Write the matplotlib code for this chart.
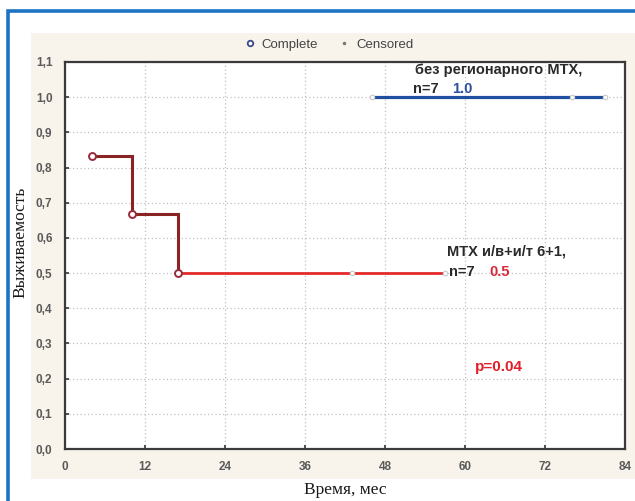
import matplotlib
matplotlib.use("Agg")
import matplotlib.pyplot as plt
from matplotlib.patches import Rectangle
from matplotlib.lines import Line2D
from matplotlib.font_manager import FontProperties

# Kaplan-Meier curves (months, cumulative survival)
red_time = [4, 10, 10, 17, 17, 57]
red_surv = [0.833, 0.833, 0.667, 0.667, 0.5, 0.5]
red_event_t = [4, 10, 17]
red_event_s = [0.833, 0.667, 0.5]
red_cens_t = [43, 57]
red_cens_s = [0.5, 0.5]

blue_time = [46, 81]
blue_surv = [1.0, 1.0]
blue_cens_t = [46, 76, 81]
blue_cens_s = [1.0, 1.0, 1.0]

x_ticks = [0, 12, 24, 36, 48, 60, 72, 84]
y_ticks = [0.0, 0.1, 0.2, 0.3, 0.4, 0.5, 0.6, 0.7, 0.8, 0.9, 1.0, 1.1]
y_tick_labels = ["0,0", "0,1", "0,2", "0,3", "0,4", "0,5", "0,6", "0,7", "0,8", "0,9", "1,0", "1,1"]

label_blue_1 = "без регионарного МТХ,"
label_blue_2 = "n=7"
value_blue = "1.0"
label_red_1 = "МТХ и/в+и/т 6+1,"
label_red_2 = "n=7"
value_red = "0.5"
p_text = "p=0.04"

W, H = 635, 501
fig = plt.figure(figsize=(W / 100, H / 100), dpi=100)
fig.patch.set_facecolor("white")

# beige panel and blue frame
fig.patches.append(Rectangle((31 / W, 1 - 479 / H), (W - 31) / W, (479 - 33) / H,
                             transform=fig.transFigure, facecolor="#f8f4ec",
                             edgecolor="none", zorder=-2))
fig.patches.append(Rectangle((8 / W, -0.05), 1.2, 1 - 11 / H + 0.05,
                             transform=fig.transFigure, facecolor="none",
                             edgecolor="#1e74c4", linewidth=2.6, zorder=-1))

ax = fig.add_axes([65 / W, 1 - 449 / H, 560 / W, 387 / H])
ax.set_facecolor("white")
ax.set_xlim(0, 84)
ax.set_ylim(0, 1.1)

ax.set_xticks(x_ticks)
ax.set_yticks(y_ticks)
ax.set_yticklabels(y_tick_labels)
tick_fp = FontProperties(family=["Liberation Sans", "DejaVu Sans"], weight="bold", size=8.5)
for lab in ax.get_xticklabels() + ax.get_yticklabels():
    lab.set_fontproperties(tick_fp)
    lab.set_color("#5a5a5a")
ax.tick_params(axis="both", direction="in", length=3, width=1.2, color="#333333", pad=9)
ax.grid(True, linestyle=(0, (1, 2)), color="#c0c0c0", linewidth=0.9)
ax.set_axisbelow(True)
for s in ax.spines.values():
    s.set_color("#3a3a3a")
    s.set_linewidth(1.6)

# red curve: early steps darker, final plateau bright red
ax.plot(red_time[:5], red_surv[:5], color="#8a2424", linewidth=2.2,
        solid_joinstyle="miter", zorder=3)
ax.plot(red_time[4:], red_surv[4:], color="#e42a2a", linewidth=2.0, zorder=3)
ax.plot(red_event_t, red_event_s, linestyle="none", marker="o", markersize=5,
        markerfacecolor="white", markeredgecolor="#9a2a3a", markeredgewidth=1.4, zorder=4)
ax.plot(red_cens_t, red_cens_s, linestyle="none", marker="o", markersize=3.2,
        markerfacecolor="white", markeredgecolor="#c8c8c8", markeredgewidth=0.8, zorder=4)

# blue curve
ax.plot(blue_time, blue_surv, color="#1f4f9e", linewidth=2.3, zorder=3)
ax.plot(blue_cens_t, blue_cens_s, linestyle="none", marker="o", markersize=3.2,
        markerfacecolor="white", markeredgecolor="#c8c8c8", markeredgewidth=0.8, zorder=4)

ann_font = ["Liberation Sans", "DejaVu Sans"]
ax.text(52.5, 1.077, label_blue_1, family=ann_font, weight="bold", size=10.5,
        color="#2a2a2a", va="center", ha="left", zorder=5)
ax.text(52.2, 1.022, label_blue_2, family=ann_font, weight="bold", size=10.5,
        color="#2a2a2a", va="center", ha="left", zorder=5)
ax.text(58.0, 1.022, value_blue, family=ann_font, weight="bold", size=10.5,
        color="#2a4ea0", va="center", ha="left", zorder=5)

ax.text(57.3, 0.56, label_red_1, family=ann_font, weight="bold", size=10.5,
        color="#2a2a2a", va="center", ha="left", zorder=5)
ax.text(57.6, 0.503, label_red_2, family=ann_font, weight="bold", size=10.5,
        color="#2a2a2a", va="center", ha="left", zorder=5)
ax.text(63.6, 0.503, value_red, family=ann_font, weight="bold", size=10.5,
        color="#d8283a", va="center", ha="left", zorder=5)

ax.text(61.5, 0.232, p_text, family=ann_font, weight="bold",
        size=11, color="#e0202a", va="center", ha="left", zorder=5)

serif = ["Liberation Serif", "DejaVu Serif"]
fig.text(20 / W, 1 - 242 / H, "Выживаемость", family=serif, size=12.5,
         rotation=90, ha="center", va="center", color="#1a1a1a")
fig.text(345 / W, 1 - 490 / H, "Время, мес", family=serif, size=12.5,
         ha="center", va="center", color="#1a1a1a")

# legend row above the plot
handles = [
    Line2D([], [], linestyle="none", marker="o", markersize=4, markerfacecolor="white",
           markeredgecolor="#3a4a8a", markeredgewidth=1.3),
    Line2D([], [], linestyle="none", marker=".", markersize=3, color="#777777"),
]
leg = fig.legend(handles, ["Complete", "Censored"], loc="center",
                 bbox_to_anchor=(329 / W, 1 - 45 / H), ncol=2, frameon=False,
                 prop=dict(family=["Liberation Sans", "DejaVu Sans"], size=9.5),
                 handlelength=0.8, handletextpad=0.5, columnspacing=1.6)
for t in leg.get_texts():
    t.set_color("#444444")

fig.savefig("out.png", dpi=100, facecolor=fig.get_facecolor())
